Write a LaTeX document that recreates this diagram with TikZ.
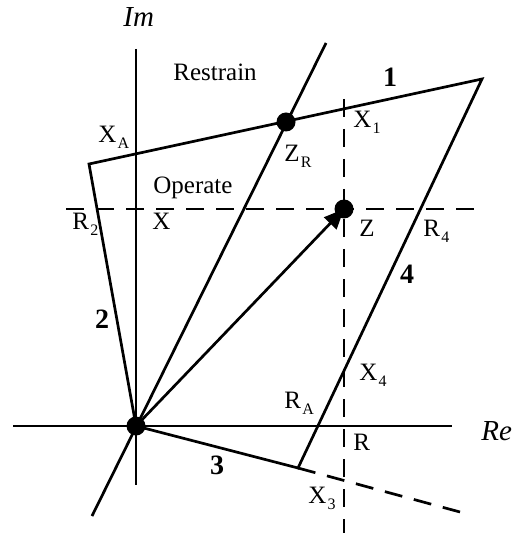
\documentclass[tikz,border=0pt]{standalone}
\usepackage{fontspec}
\setmainfont{Liberation Serif}
\usetikzlibrary{arrows.meta}
\newcommand\lsub[1]{\kern0.6pt\raisebox{-3pt}{\fontsize{8}{9}\selectfont #1}}
\tikzset{
  solidline/.style={line width=1.35pt},
  dashline/.style={line width=1.35pt, dash pattern=on 9pt off 6pt},
  lbl/.style={font=\fontsize{12.5}{14}\selectfont, inner sep=0pt, anchor=base west},
  ilbl/.style={font=\fontsize{14.5}{16}\selectfont\itshape, inner sep=0pt, anchor=base west},
  num/.style={font=\fontsize{14}{16}\selectfont\bfseries, inner sep=0pt, anchor=base},
  dot/.style={circle, fill, inner sep=0pt, minimum size=9.5pt},
}
\begin{document}
\begin{tikzpicture}[x=0.5pt,y=-0.5pt]
\useasboundingbox (0,0) rectangle (513,533);
% key points
\coordinate (O) at (136,426);
\coordinate (TL) at (89,164);
\coordinate (TR) at (482,79);
\coordinate (BC) at (298,468);
\coordinate (Zp) at (344,209);
\coordinate (ZRp) at (286,122);
% axes ends
\coordinate (ImT) at (136,49);
\coordinate (ImB) at (136,485);
\coordinate (ReL) at (13,426);
\coordinate (ReR) at (452,426);
% line through origin
\coordinate (LB) at (92,516);
\coordinate (LT) at (326,43);
% dashed lines ends
\coordinate (VT) at (344,99);
\coordinate (VB) at (344,533);
\coordinate (HL) at (66,209);
\coordinate (HR) at (483,209);
\coordinate (DE) at (460,512);

% axes
\draw[solidline] (ImT) -- (ImB);
\draw[solidline] (ReL) -- (ReR);
% dashed lines
\draw[dashline] (HL) -- (HR);
\draw[dashline] (VT) -- (VB);
\draw[dashline] (BC) -- (DE);
% line through origin
\draw[solidline] (LB) -- (LT);
% characteristic
\draw[solidline, line join=miter] (O) -- (TL) -- (TR) -- (BC) -- cycle;
% impedance arrow
\draw[solidline, -{Triangle[length=10pt,width=8.5pt]}] (O) -- (Zp);
% dots
\node[dot] (Od) at (O) {};
\node[dot] (Zd) at (Zp) {};
\node[dot] (ZRd) at (ZRp) {};

% labels
\node[ilbl] (im) at (123,27) {Im};
\node[ilbl] (re) at (481,440) {Re};
\node[lbl] (restrain) at (173,81) {Restrain};
\node[lbl] (operate) at (153,194) {Operate};
\node[lbl] (xa) at (98,143) {X\lsub{A}};
\node[lbl] (r2) at (72,230) {R\lsub{2}};
\node[lbl] (x) at (152,230) {X};
\node[lbl] (zr) at (284,162) {Z\lsub{R}};
\node[lbl] (x1) at (353,128) {X\lsub{1}};
\node[lbl] (z) at (359,237) {Z};
\node[lbl] (r4) at (423,237) {R\lsub{4}};
\node[lbl] (x4) at (359,380) {X\lsub{4}};
\node[lbl] (ra) at (284,408) {R\lsub{A}};
\node[lbl] (r) at (353,450) {R};
\node[lbl] (x3) at (308,503) {X\lsub{3}};
\node[num] (n1) at (390,87) {1};
\node[num] (n2) at (102,328) {2};
\node[num] (n3) at (217,474) {3};
\node[num] (n4) at (407,284) {4};
\end{tikzpicture}
\end{document}
